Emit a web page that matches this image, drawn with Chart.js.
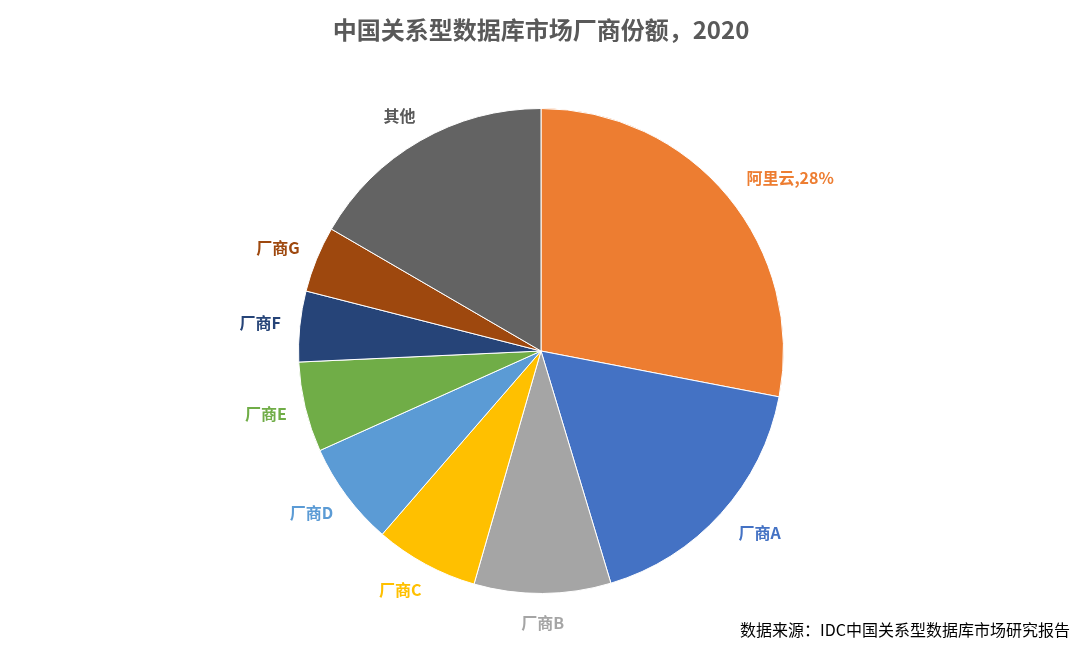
<!DOCTYPE html>
<html><head><meta charset="utf-8">
<script src="https://cdn.jsdelivr.net/npm/chart.js@4"></script>
<style>html,body{margin:0;padding:0;background:#fff}#w{width:1080px;height:650px;position:relative}</style>
</head><body><div id="w"><canvas id="c"></canvas></div>
<script>
const categories = ['阿里云','厂商A','厂商B','厂商C','厂商D','厂商E','厂商F','厂商G','其他'];
const values = [28,17.3,9.1,6.9,6.9,6.0,4.7,4.4,16.6];
const labelTexts = ['阿里云,28%','厂商A','厂商B','厂商C','厂商D','厂商E','厂商F','厂商G','其他'];
const colors = ['#ED7D31','#4472C4','#A5A5A5','#FFC000','#5B9BD5','#70AD47','#264478','#9E480E','#636363'];
const labelColors = ['#ED7D31','#4472C4','#A5A5A5','#FFC000','#5B9BD5','#70AD47','#264478','#9E480E','#595959'];
const FONT = '"Noto Sans CJK SC", "Noto Sans", sans-serif';
const extra = {
  id:'extra',
  afterDraw(chart){
    const ctx = chart.ctx;
    ctx.save();
    ctx.fillStyle = '#595959';
    ctx.font = 'bold 24px ' + FONT;
    ctx.textAlign = 'center'; ctx.textBaseline = 'middle';
    ctx.fillText('中国关系型数据库市场厂商份额，2020', 541, 30);
    ctx.fillStyle = '#000';
    ctx.font = '16px ' + FONT;
    ctx.textAlign = 'right';
    ctx.fillText('数据来源：IDC中国关系型数据库市场研究报告', 1070, 630);
    const meta = chart.getDatasetMeta(0);
    ctx.font = 'bold 16px ' + FONT;
    meta.data.forEach((arc,i)=>{
      const mid = (arc.startAngle + arc.endAngle)/2;
      const r = arc.outerRadius * 1.12;
      let x = arc.x + r*Math.cos(mid), y = arc.y + r*Math.sin(mid);
      const c = Math.cos(mid);
      if (Math.abs(c) < 0.1) { ctx.textAlign='center'; }
      else if (c > 0) { ctx.textAlign='left'; x -= 4; }
      else { ctx.textAlign='right'; x += 10; }
      ctx.fillStyle = labelColors[i];
      ctx.fillText(labelTexts[i], x, y);
    });
    ctx.restore();
  }
};
new Chart(document.getElementById('c'), {
  type:'pie',
  data:{labels:categories, datasets:[{data:values, backgroundColor:colors, borderColor:'#fff', borderWidth:1}]},
  options:{responsive:true, maintainAspectRatio:false, animation:false,
    layout:{padding:{top:108,bottom:56,left:2,right:0}},
    plugins:{legend:{display:false}, tooltip:{enabled:false}}},
  plugins:[extra]
});
</script></body></html>
